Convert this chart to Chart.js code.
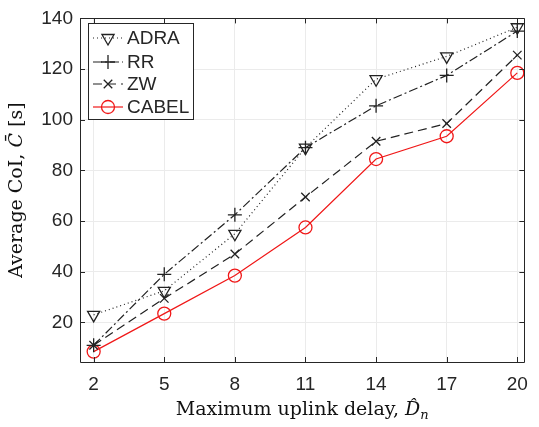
<!DOCTYPE html>
<html>
<head>
<meta charset="utf-8">
<script src="https://cdn.jsdelivr.net/npm/chart.js@4"></script>
<style>
  html, body { margin: 0; padding: 0; background: #fff; }
  #wrap { width: 539px; height: 427px; }
</style>
</head>
<body>
<div id="wrap"><canvas id="myChart" width="539" height="427"></canvas></div>
<script>
const delays = [2, 5, 8, 11, 14, 17, 20];
const adra = [23, 32.5, 55, 89, 116, 125, 136.5];
const rr = [11, 39, 62.5, 89, 105.5, 117.5, 135];
const zw = [11, 29.5, 47, 69.5, 91.5, 98.5, 125.5];
const cabel = [8.5, 23.5, 38.5, 57.5, 84.5, 93.5, 118.5];
const yTicks = [20, 40, 60, 80, 100, 120, 140];

const axisColor = '#262626';
const tickFont = { family: 'Liberation Sans', size: 19 };

function series(label, values, color, dash, style, radius, rotation) {
  return {
    label: label,
    data: delays.map((d, i) => ({ x: d, y: values[i] })),
    borderColor: color,
    borderWidth: 1.2,
    borderDash: dash,
    pointStyle: style,
    pointRadius: radius,
    pointRotation: rotation || 0,
    pointBorderColor: color,
    pointBackgroundColor: 'rgba(0,0,0,0)',
    pointBorderWidth: 1.3,
    fill: false,
    tension: 0
  };
}

const datasets = [
  series('ADRA', adra, '#222', [1, 3], 'triangle', 7, 180),
  series('RR', rr, '#222', [9, 3, 2, 3], 'cross', 7),
  series('ZW', zw, '#222', [9, 5], 'crossRot', 6),
  series('CABEL', cabel, '#f01818', [], 'circle', 6.5)
];

// box, inward ticks, legend and axis titles, matlab style
const framePlugin = {
  id: 'frame',
  afterDatasetsDraw(chart) {
    const ctx = chart.ctx;
    const a = chart.chartArea;
    const xs = chart.scales.x, ys = chart.scales.y;
    ctx.save();
    ctx.strokeStyle = axisColor;
    ctx.lineWidth = 1;
    ctx.beginPath();
    ctx.rect(Math.round(a.left) + 0.5, Math.round(a.top) + 0.5,
      Math.round(a.right - a.left), Math.round(a.bottom - a.top));
    ctx.stroke();
    ctx.beginPath();
    delays.forEach(d => {
      const px = Math.round(xs.getPixelForValue(d)) + 0.5;
      ctx.moveTo(px, a.bottom); ctx.lineTo(px, a.bottom - 5);
      ctx.moveTo(px, a.top); ctx.lineTo(px, a.top + 5);
    });
    yTicks.forEach(v => {
      const py = Math.round(ys.getPixelForValue(v)) + 0.5;
      ctx.moveTo(a.left, py); ctx.lineTo(a.left + 5, py);
      ctx.moveTo(a.right, py); ctx.lineTo(a.right - 5, py);
    });
    ctx.stroke();

    // legend
    const lx = 88.5, ly = 23.5, lw = 105, lh = 96;
    ctx.fillStyle = '#fff';
    ctx.fillRect(lx, ly, lw, lh);
    ctx.strokeStyle = axisColor;
    ctx.strokeRect(lx, ly, lw, lh);
    const rows = [38, 62, 84, 107];
    chart.data.datasets.forEach((ds, i) => {
      const y = rows[i];
      ctx.strokeStyle = ds.borderColor;
      ctx.lineWidth = ds.borderWidth;
      ctx.setLineDash(ds.borderDash);
      ctx.beginPath();
      ctx.moveTo(93, y); ctx.lineTo(123, y);
      ctx.stroke();
      ctx.setLineDash([]);
      ctx.fillStyle = 'rgba(0,0,0,0)';
      ctx.lineWidth = ds.pointBorderWidth;
      Chart.helpers.drawPoint(ctx, {
        pointStyle: ds.pointStyle, radius: ds.pointRadius,
        rotation: ds.pointRotation, borderWidth: ds.pointBorderWidth
      }, 108, y);
      ctx.fillStyle = axisColor;
      ctx.font = '19px "Liberation Sans"';
      ctx.textBaseline = 'middle';
      ctx.textAlign = 'left';
      ctx.fillText(ds.label, 127, y + 1);
    });

    // axis titles
    ctx.fillStyle = '#111';
    ctx.textBaseline = 'alphabetic';
    const serif = '"DejaVu Serif"';
    let parts = [
      ['Maximum uplink delay, ', '19px ' + serif, 0],
      ['D\u0302', 'italic 19px ' + serif, 0],
      ['n', 'italic 13px ' + serif, 4]
    ];
    let total = 0;
    parts.forEach(p => { ctx.font = p[1]; total += ctx.measureText(p[0]).width; });
    let x = (a.left + a.right) / 2 - total / 2;
    ctx.textAlign = 'left';
    parts.forEach(p => {
      ctx.font = p[1];
      ctx.fillText(p[0], x, 415 + p[2]);
      x += ctx.measureText(p[0]).width;
    });

    ctx.translate(22, (a.top + a.bottom) / 2);
    ctx.rotate(-Math.PI / 2);
    parts = [
      ['Average CoI, ', '19px ' + serif],
      ['C\u0304', 'italic 19px ' + serif],
      [' [s]', '19px ' + serif]
    ];
    total = 0;
    parts.forEach(p => { ctx.font = p[1]; total += ctx.measureText(p[0]).width; });
    x = -total / 2;
    parts.forEach(p => {
      ctx.font = p[1];
      ctx.fillText(p[0], x, 0);
      x += ctx.measureText(p[0]).width;
    });
    ctx.restore();
  }
};

const ctx = document.getElementById('myChart').getContext('2d');
const chart = new Chart(ctx, {
  type: 'line',
  data: { datasets: datasets },
  options: {
    responsive: false,
    animation: false,
    layout: { padding: { top: 14, right: 6, left: 0, bottom: 0 } },
    plugins: { legend: { display: false }, tooltip: { enabled: false } },
    scales: {
      x: {
        type: 'linear',
        min: 1.42,
        max: 20.3,
        afterBuildTicks: s => { s.ticks = delays.map(v => ({ value: v })); },
        afterFit: s => { s.height = 65; },
        ticks: { color: axisColor, font: tickFont, padding: 11, autoSkip: false, maxRotation: 0 },
        grid: { color: '#ebebeb', drawTicks: false },
        border: { display: false }
      },
      y: {
        min: 4.4,
        max: 140,
        afterBuildTicks: s => { s.ticks = yTicks.map(v => ({ value: v })); },
        afterFit: s => { s.width = 80; },
        ticks: { color: axisColor, font: tickFont, padding: 7 },
        grid: { color: '#ebebeb', drawTicks: false },
        border: { display: false }
      }
    }
  },
  plugins: [framePlugin]
});
</script>
</body>
</html>
